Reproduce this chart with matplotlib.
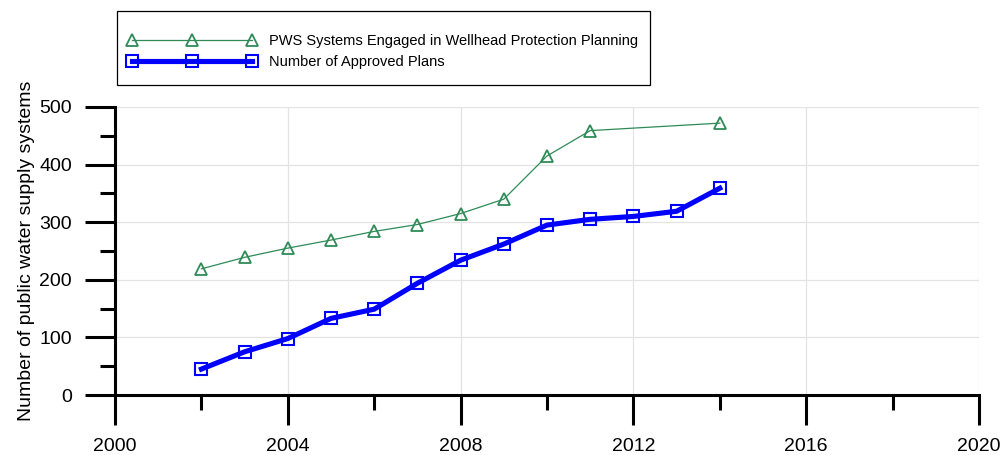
import matplotlib
matplotlib.use("Agg")
import matplotlib.pyplot as plt
from matplotlib.patches import Rectangle
from matplotlib.ticker import MultipleLocator

plt.rcParams['font.family'] = ['Liberation Sans', 'DejaVu Sans']

years_engaged = [2002, 2003, 2004, 2005, 2006, 2007, 2008, 2009, 2010, 2011, 2014]
engaged = [219, 239, 255, 269, 284, 296, 315, 340, 415, 459, 472]

years_plans = [2002, 2003, 2004, 2005, 2006, 2007, 2008, 2009, 2010, 2011, 2012, 2013, 2014]
plans = [45, 75, 98, 133, 149, 194, 234, 262, 295, 305, 310, 319, 359]

label_engaged = "PWS Systems Engaged in Wellhead Protection Planning"
label_plans = "Number of Approved Plans"
ylabel = "Number of public water supply systems"

W, H = 1002, 455
fig = plt.figure(figsize=(W / 100, H / 100), dpi=100)
ax = fig.add_axes([115 / W, (H - 395) / H, (979 - 115) / W, (395 - 107) / H])

green = '#2e8b57'
blue = '#0000ff'
ax.plot(years_engaged, engaged, color=green, lw=0.9, marker='^', ms=8,
        mfc='none', mec=green, mew=1.3, label=label_engaged, zorder=3)
ax.plot(years_plans, plans, color=blue, lw=3.7, marker='s', ms=8.5,
        mfc='none', mec=blue, mew=1.5, label=label_plans, zorder=4)

ax.set_xlim(2000, 2020)
ax.set_ylim(0, 500)
ax.xaxis.set_major_locator(MultipleLocator(4))
ax.xaxis.set_minor_locator(MultipleLocator(2))
ax.yaxis.set_major_locator(MultipleLocator(100))
ax.yaxis.set_minor_locator(MultipleLocator(50))

for s in ['top', 'right']:
    ax.spines[s].set_visible(False)
for s in ['left', 'bottom']:
    ax.spines[s].set_linewidth(2.2)
ax.tick_params(which='major', direction='out', length=21.6, width=2.2, labelsize=14)
ax.tick_params(which='minor', direction='out', length=10.8, width=2.2)
ax.tick_params(axis='x', which='major', pad=9.5)
ax.tick_params(axis='y', which='major', pad=9.4)
ax.grid(True, which='major', color='#e3e3e3', lw=0.9)
ax.set_axisbelow(True)
ax.set_ylabel(ylabel, fontsize=14)
ax.yaxis.set_label_coords((35 - 115) / 864, (395 - 251) / 288)

fig.patches.append(Rectangle((117 / W, (H - 85) / H), (650 - 117) / W, 74 / H,
                             transform=fig.transFigure, fill=False,
                             edgecolor='black', lw=0.9))
fig.legend(loc='upper left', bbox_to_anchor=(128 / W, (H - 34) / H),
           frameon=False, fontsize=10.5, numpoints=3, handlelength=8.8,
           handletextpad=0.85, labelspacing=0.5, borderaxespad=0, borderpad=0)

fig.savefig('out.png', dpi=100)
